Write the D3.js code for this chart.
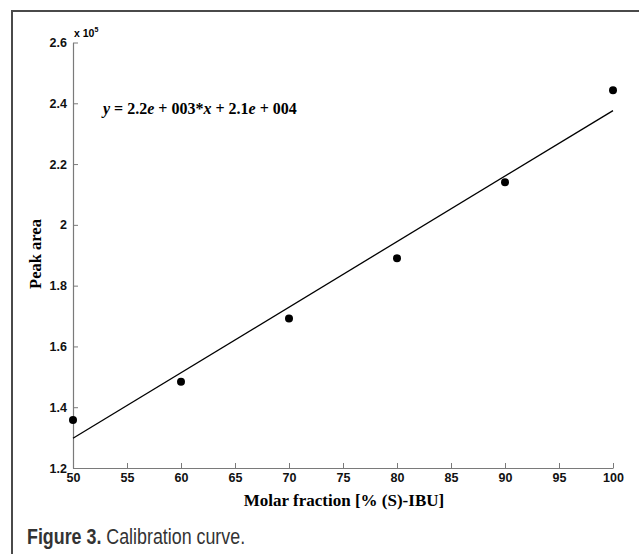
<!DOCTYPE html>
<html><head><meta charset="utf-8">
<script src="https://cdn.jsdelivr.net/npm/d3@7/dist/d3.min.js"></script>
<style>body{margin:0;background:#fff}svg{display:block}</style>
</head><body>
<svg id="c" width="639" height="554"></svg>
<script>
const molarFraction = [50, 60, 70, 80, 90, 100];
const peakArea = [135800, 148400, 169200, 189000, 214000, 244300];
const fitSlope = 2156, fitIntercept = 22000;
const xTicks = [50, 55, 60, 65, 70, 75, 80, 85, 90, 95, 100];
const yTicks = [1.2e5, 1.4e5, 1.6e5, 1.8e5, 2.0e5, 2.2e5, 2.4e5, 2.6e5];
const yTickLabels = ["1.2", "1.4", "1.6", "1.8", "2", "2.2", "2.4", "2.6"];

const svg = d3.select("#c");
const x = d3.scaleLinear().domain([50, 100]).range([73, 613]);
const y = d3.scaleLinear().domain([1.2e5, 2.6e5]).range([468, 42.5]);

// frame
svg.append("path").attr("d", "M12,554V11H639").attr("fill", "none").attr("stroke", "#4a4a4a").attr("stroke-width", 2);

const ax = "#7a7a7a";
const xa = svg.append("g").attr("transform", "translate(0,468)")
  .call(d3.axisBottom(x).tickValues(xTicks).tickSizeInner(-5).tickSizeOuter(0).tickPadding(8).tickFormat(d3.format("d")));
const ya = svg.append("g").attr("transform", "translate(73,0)")
  .call(d3.axisLeft(y).tickValues(yTicks).tickSizeInner(-5).tickSizeOuter(0).tickPadding(6).tickFormat((d,i) => yTickLabels[i]));
[xa, ya].forEach(g => {
  g.select(".domain").attr("stroke", ax).attr("stroke-width", 1.2);
  g.selectAll(".tick line").attr("stroke", ax);
  g.selectAll("text").attr("fill", "#111").style("font-family", "Arial, 'Liberation Sans', sans-serif").style("font-weight", "bold").style("font-size", "12.5px");
});
xa.selectAll("text").attr("dy", "0.5em");

svg.append("text").attr("x", 74).attr("y", 37).style("font-family", "Arial, 'Liberation Sans', sans-serif").style("font-weight", "bold").style("font-size", "10.5px")
  .text("x 10").append("tspan").attr("dy", -5).style("font-size", "7px").text("5");

// fit line
svg.append("line").attr("x1", x(50)).attr("y1", y(fitSlope*50+fitIntercept)).attr("x2", x(100)).attr("y2", y(fitSlope*100+fitIntercept))
  .attr("stroke", "#000").attr("stroke-width", 1.3);

svg.selectAll("circle").data(molarFraction).join("circle")
  .attr("cx", d => x(d)).attr("cy", (d,i) => y(peakArea[i])).attr("r", 4).attr("fill", "#000");

// equation
const eq = svg.append("text").attr("x", 103).attr("y", 114).style("font-family", "'Liberation Serif', 'Times New Roman', serif").style("font-weight", "bold").style("font-size", "16px");
[["y", 1], [" = 2.2", 0], ["e", 1], [" + 003*", 0], ["x", 1], [" + 2.1", 0], ["e", 1], [" + 004", 0]].forEach(([t, it]) => {
  eq.append("tspan").style("font-style", it ? "italic" : "normal").text(t);
});

svg.append("text").attr("x", 344).attr("y", 506).attr("text-anchor", "middle")
  .style("font-family", "'Liberation Serif', 'Times New Roman', serif").style("font-weight", "bold").style("font-size", "17px")
  .text("Molar fraction [% (S)-IBU]");
svg.append("text").attr("transform", "translate(41,254) rotate(-90)").attr("text-anchor", "middle")
  .style("font-family", "'Liberation Serif', 'Times New Roman', serif").style("font-weight", "bold").style("font-size", "16.5px")
  .text("Peak area");

const cap = svg.append("text").attr("transform", "translate(27,544) scale(0.83,1)").attr("fill", "#333")
  .style("font-family", "'Liberation Sans Narrow', 'Arial Narrow', 'Liberation Sans', sans-serif").style("font-size", "21.5px");
cap.append("tspan").style("font-weight", "bold").text("Figure 3.");
cap.append("tspan").text(" Calibration curve.");
</script>
</body></html>
